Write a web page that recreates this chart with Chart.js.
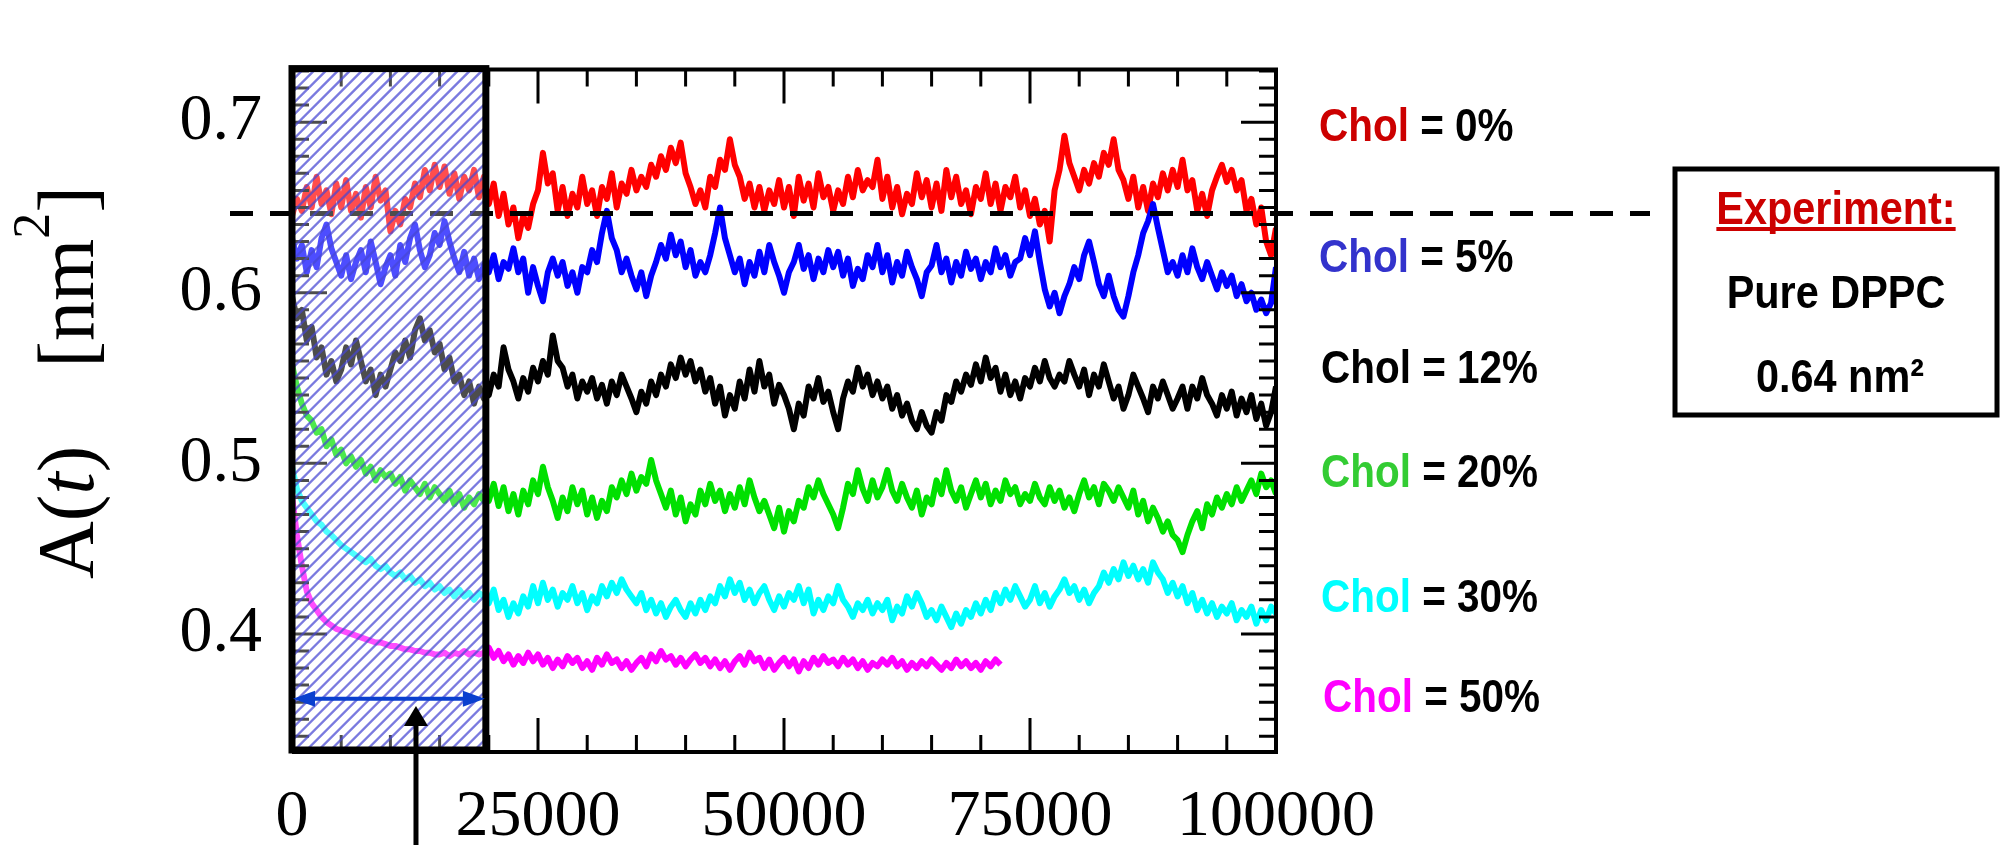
<!DOCTYPE html>
<html>
<head>
<meta charset="utf-8">
<script src="https://cdn.jsdelivr.net/npm/chart.js@4.4.1/dist/chart.umd.min.js"></script>
<style>
  html, body { margin: 0; padding: 0; background: #fff; }
  #wrap { width: 2003px; height: 845px; }
</style>
</head>
<body>
<div id="wrap"><canvas id="c" width="2003" height="845"></canvas></div>
<script>
// ---------------- data ----------------
const T_STEP = 500;            // sampling interval of the traces (x units)
const xTickValues = [0, 25000, 50000, 75000, 100000];
const yTickValues = [0.4, 0.5, 0.6, 0.7];
const Y_MIN = 0.3308, Y_MAX = 0.7308;
const X_MIN = 0, X_MAX = 100000;
const HATCH_END = 19700;       // equilibration window shown hatched
const EXP_LINE = 0.6465;       // dashed reference line
const BLUE_ARROW_Y = 0.362;
const BLACK_ARROW_X = 12600, BLACK_ARROW_TIP = 0.3578;

const seriesNames = ['Chol = 0%', 'Chol = 5%', 'Chol = 12%', 'Chol = 20%', 'Chol = 30%', 'Chol = 50%'];
const lineColors  = ['#ff0000', '#0000ff', '#000000', '#00e000', '#00ffff', '#ff00ff'];
const labelColors = ['#cc0000', '#3333cc', '#000000', '#33cc33', '#00ffff', '#ff00ff'];

const chol0 = [
0.645,0.655,0.648,0.662,0.650,0.668,0.652,0.660,0.646,0.664,
0.650,0.666,0.648,0.658,0.644,0.662,0.650,0.668,0.654,0.660,
0.636,0.648,0.640,0.655,0.650,0.664,0.656,0.672,0.660,0.675,
0.662,0.674,0.658,0.670,0.655,0.668,0.660,0.672,0.656,0.668,
0.652,0.664,0.645,0.658,0.640,0.650,0.632,0.645,0.638,0.652,
0.660,0.682,0.664,0.670,0.648,0.662,0.645,0.658,0.650,0.668,
0.652,0.660,0.645,0.662,0.655,0.670,0.650,0.664,0.658,0.672,
0.660,0.668,0.662,0.675,0.668,0.680,0.672,0.685,0.676,0.688,
0.670,0.662,0.652,0.660,0.650,0.668,0.662,0.678,0.672,0.690,
0.675,0.668,0.655,0.664,0.650,0.662,0.648,0.660,0.652,0.666,
0.650,0.662,0.645,0.668,0.654,0.664,0.650,0.670,0.656,0.662,
0.648,0.660,0.652,0.668,0.656,0.672,0.660,0.666,0.662,0.678,
0.655,0.668,0.650,0.662,0.646,0.658,0.652,0.670,0.656,0.666,
0.650,0.664,0.648,0.672,0.656,0.668,0.652,0.660,0.646,0.662,
0.655,0.670,0.652,0.664,0.648,0.662,0.656,0.668,0.650,0.660,
0.645,0.655,0.640,0.648,0.630,0.660,0.672,0.692,0.676,0.668,
0.660,0.672,0.664,0.676,0.668,0.682,0.675,0.690,0.672,0.666,
0.655,0.668,0.650,0.662,0.648,0.664,0.656,0.670,0.660,0.672,
0.662,0.678,0.660,0.666,0.648,0.658,0.645,0.660,0.668,0.675,
0.665,0.672,0.660,0.666,0.648,0.655,0.640,0.650,0.630,0.622,
0.638];

const chol5 = [
0.632,0.620,0.628,0.612,0.625,0.615,0.632,0.640,0.626,0.618,
0.610,0.622,0.608,0.618,0.625,0.612,0.630,0.618,0.605,0.615,
0.622,0.610,0.628,0.618,0.632,0.640,0.625,0.615,0.622,0.635,
0.628,0.642,0.630,0.620,0.612,0.624,0.610,0.620,0.608,0.616,
0.612,0.622,0.608,0.618,0.614,0.626,0.612,0.620,0.600,0.615,
0.604,0.595,0.612,0.620,0.610,0.618,0.604,0.612,0.600,0.615,
0.612,0.625,0.618,0.635,0.648,0.632,0.625,0.612,0.620,0.610,
0.602,0.612,0.598,0.610,0.618,0.628,0.620,0.634,0.622,0.630,
0.615,0.625,0.610,0.618,0.612,0.622,0.635,0.650,0.632,0.622,
0.612,0.620,0.605,0.618,0.610,0.624,0.612,0.628,0.618,0.610,
0.600,0.612,0.618,0.628,0.614,0.622,0.608,0.620,0.612,0.625,
0.615,0.624,0.610,0.620,0.604,0.614,0.608,0.622,0.615,0.628,
0.612,0.622,0.606,0.618,0.610,0.624,0.615,0.608,0.598,0.612,
0.616,0.628,0.612,0.620,0.606,0.618,0.610,0.624,0.614,0.620,
0.608,0.618,0.612,0.626,0.615,0.622,0.610,0.618,0.620,0.632,
0.622,0.636,0.618,0.602,0.592,0.600,0.588,0.598,0.605,0.615,
0.608,0.622,0.630,0.618,0.605,0.598,0.610,0.598,0.590,0.586,
0.598,0.612,0.622,0.635,0.642,0.652,0.638,0.625,0.612,0.618,
0.610,0.622,0.612,0.626,0.615,0.608,0.618,0.610,0.602,0.612,
0.604,0.610,0.598,0.605,0.595,0.600,0.590,0.596,0.588,0.594,
0.615];

const chol12 = [
0.598,0.585,0.590,0.572,0.580,0.562,0.568,0.552,0.560,0.548,
0.555,0.568,0.558,0.572,0.560,0.548,0.555,0.540,0.552,0.545,
0.555,0.565,0.560,0.572,0.562,0.578,0.585,0.572,0.578,0.565,
0.570,0.555,0.562,0.548,0.552,0.540,0.548,0.535,0.545,0.538,
0.540,0.552,0.545,0.568,0.555,0.548,0.538,0.550,0.542,0.556,
0.548,0.560,0.552,0.575,0.560,0.556,0.545,0.552,0.538,0.548,
0.542,0.550,0.538,0.546,0.535,0.548,0.540,0.552,0.545,0.538,
0.530,0.542,0.535,0.548,0.540,0.552,0.545,0.558,0.550,0.562,
0.552,0.560,0.548,0.555,0.542,0.550,0.535,0.545,0.528,0.540,
0.532,0.548,0.538,0.555,0.542,0.560,0.545,0.552,0.535,0.546,
0.540,0.532,0.520,0.535,0.528,0.545,0.538,0.550,0.536,0.542,
0.530,0.520,0.538,0.548,0.542,0.556,0.545,0.552,0.540,0.548,
0.538,0.545,0.532,0.540,0.528,0.535,0.525,0.520,0.530,0.522,
0.518,0.530,0.525,0.540,0.536,0.548,0.542,0.552,0.546,0.558,
0.548,0.562,0.550,0.556,0.542,0.552,0.540,0.548,0.538,0.550,
0.545,0.556,0.548,0.560,0.550,0.545,0.552,0.548,0.560,0.552,
0.545,0.555,0.540,0.552,0.545,0.558,0.548,0.538,0.545,0.532,
0.540,0.552,0.545,0.538,0.530,0.545,0.538,0.548,0.540,0.532,
0.538,0.545,0.532,0.545,0.538,0.550,0.540,0.535,0.528,0.540,
0.532,0.542,0.528,0.538,0.530,0.540,0.526,0.535,0.522,0.530,
0.545];

const chol20 = [
0.558,0.545,0.535,0.528,0.525,0.518,0.520,0.510,0.514,0.505,
0.508,0.500,0.504,0.498,0.502,0.494,0.498,0.490,0.496,0.492,
0.494,0.488,0.492,0.484,0.490,0.486,0.482,0.488,0.480,0.486,
0.482,0.478,0.484,0.476,0.482,0.474,0.480,0.476,0.482,0.478,
0.478,0.488,0.475,0.486,0.472,0.482,0.470,0.484,0.476,0.490,
0.482,0.498,0.486,0.478,0.468,0.480,0.472,0.486,0.476,0.484,
0.470,0.480,0.468,0.478,0.472,0.486,0.480,0.490,0.482,0.494,
0.484,0.492,0.488,0.502,0.490,0.482,0.474,0.484,0.470,0.480,
0.466,0.476,0.470,0.484,0.476,0.488,0.478,0.484,0.472,0.482,
0.474,0.486,0.476,0.490,0.480,0.472,0.478,0.470,0.462,0.474,
0.460,0.472,0.466,0.478,0.474,0.486,0.480,0.490,0.482,0.476,
0.470,0.462,0.474,0.488,0.482,0.496,0.485,0.478,0.490,0.480,
0.486,0.496,0.484,0.478,0.488,0.480,0.474,0.484,0.470,0.480,
0.476,0.490,0.482,0.496,0.484,0.478,0.486,0.474,0.482,0.490,
0.480,0.488,0.476,0.484,0.478,0.490,0.482,0.486,0.476,0.482,
0.478,0.488,0.480,0.476,0.486,0.478,0.484,0.474,0.480,0.472,
0.482,0.490,0.480,0.486,0.476,0.488,0.484,0.478,0.486,0.480,
0.474,0.484,0.470,0.478,0.466,0.474,0.468,0.460,0.466,0.458,
0.455,0.448,0.458,0.466,0.472,0.462,0.476,0.470,0.480,0.474,
0.482,0.476,0.486,0.478,0.484,0.490,0.482,0.494,0.486,0.490,
0.482];

const chol30 = [
0.498,0.485,0.478,0.474,0.470,0.466,0.464,0.460,0.458,0.455,
0.452,0.450,0.448,0.446,0.444,0.442,0.444,0.440,0.438,0.440,
0.436,0.434,0.436,0.432,0.434,0.430,0.432,0.428,0.430,0.426,
0.428,0.424,0.426,0.422,0.426,0.422,0.424,0.420,0.424,0.422,
0.418,0.426,0.414,0.420,0.410,0.418,0.412,0.422,0.416,0.428,
0.418,0.430,0.420,0.426,0.416,0.424,0.420,0.428,0.418,0.424,
0.414,0.422,0.418,0.428,0.422,0.430,0.424,0.432,0.426,0.422,
0.418,0.424,0.414,0.420,0.412,0.418,0.410,0.416,0.420,0.414,
0.410,0.418,0.412,0.420,0.414,0.422,0.418,0.428,0.422,0.432,
0.424,0.430,0.420,0.426,0.418,0.424,0.428,0.420,0.414,0.422,
0.416,0.424,0.420,0.428,0.418,0.426,0.412,0.420,0.414,0.422,
0.418,0.428,0.420,0.416,0.410,0.418,0.414,0.420,0.412,0.418,
0.414,0.420,0.408,0.416,0.412,0.422,0.416,0.424,0.418,0.410,
0.414,0.408,0.416,0.410,0.404,0.412,0.406,0.414,0.410,0.418,
0.412,0.420,0.414,0.424,0.418,0.426,0.420,0.428,0.422,0.416,
0.420,0.428,0.418,0.424,0.416,0.422,0.426,0.432,0.424,0.428,
0.420,0.426,0.418,0.424,0.428,0.436,0.430,0.438,0.432,0.442,
0.434,0.440,0.432,0.438,0.430,0.442,0.436,0.432,0.424,0.430,
0.422,0.428,0.418,0.424,0.414,0.420,0.412,0.418,0.410,0.416,
0.412,0.418,0.408,0.414,0.410,0.416,0.406,0.414,0.408,0.416,
0.412];

const chol50 = [
0.481,0.458,0.440,0.425,0.418,0.414,0.410,0.407,0.405,0.403,
0.402,0.401,0.400,0.399,0.398,0.397,0.396,0.395,0.395,0.394,
0.393,0.393,0.392,0.391,0.391,0.390,0.390,0.389,0.389,0.388,
0.388,0.389,0.387,0.389,0.388,0.390,0.388,0.389,0.388,0.389,
0.392,0.386,0.390,0.384,0.388,0.382,0.387,0.383,0.389,0.384,
0.388,0.382,0.386,0.380,0.385,0.381,0.387,0.383,0.386,0.380,
0.384,0.379,0.386,0.382,0.388,0.383,0.385,0.380,0.384,0.379,
0.383,0.386,0.381,0.388,0.384,0.390,0.385,0.387,0.382,0.386,
0.381,0.385,0.388,0.383,0.386,0.381,0.385,0.380,0.384,0.379,
0.384,0.387,0.382,0.389,0.384,0.386,0.380,0.385,0.379,0.383,
0.386,0.381,0.385,0.378,0.384,0.380,0.386,0.382,0.387,0.383,
0.385,0.381,0.386,0.382,0.385,0.380,0.384,0.379,0.383,0.381,
0.385,0.382,0.386,0.381,0.384,0.379,0.383,0.380,0.384,0.381,
0.385,0.382,0.379,0.383,0.380,0.385,0.381,0.384,0.380,0.383,
0.379,0.384,0.381,0.385,0.382];

const allSeries = [chol0, chol5, chol12, chol20, chol30, chol50];

// ---------------- chart ----------------
const SERIF = '"Liberation Serif", "Times New Roman", serif';
const SANS = '"Liberation Sans", Arial, sans-serif';

function drawParts(ctx, x, baseline, parts, font, sx) {
  ctx.save();
  ctx.translate(x, baseline);
  ctx.scale(sx, 1);
  ctx.font = font;
  ctx.textBaseline = 'alphabetic';
  ctx.textAlign = 'left';
  let cx = 0;
  for (const [txt, col] of parts) {
    ctx.fillStyle = col;
    ctx.fillText(txt, cx, 0);
    cx += ctx.measureText(txt).width;
  }
  ctx.restore();
  return cx * sx;
}

function arrowHead(ctx, tipX, tipY, dirX, dirY, len, half) {
  const px = -dirY, py = dirX;
  ctx.beginPath();
  ctx.moveTo(tipX, tipY);
  ctx.lineTo(tipX - dirX * len + px * half, tipY - dirY * len + py * half);
  ctx.lineTo(tipX - dirX * len - px * half, tipY - dirY * len - py * half);
  ctx.closePath();
  ctx.fill();
}

const decor = {
  id: 'decor',
  afterDatasetsDraw(chart) {
    const { ctx, chartArea: a, scales: { x, y } } = chart;
    ctx.save();
    ctx.strokeStyle = '#000';
    ctx.lineCap = 'butt';
    // frame (top, right, bottom)
    ctx.lineWidth = 4;
    ctx.beginPath();
    ctx.moveTo(a.left, a.top); ctx.lineTo(a.right, a.top);
    ctx.lineTo(a.right, a.bottom); ctx.lineTo(a.left, a.bottom);
    ctx.stroke();
    // inward ticks
    ctx.lineWidth = 3;
    ctx.beginPath();
    for (let v = X_MIN; v <= X_MAX; v += 5000) {
      const px = x.getPixelForValue(v);
      const len = v % 25000 === 0 ? 34 : 17;
      ctx.moveTo(px, a.bottom); ctx.lineTo(px, a.bottom - len);
      ctx.moveTo(px, a.top); ctx.lineTo(px, a.top + len);
    }
    for (let i = 34; i <= 73; i++) {
      const py = y.getPixelForValue(i / 100);
      const len = i % 10 === 0 ? 35 : 17;
      ctx.moveTo(a.right, py); ctx.lineTo(a.right - len, py);
      ctx.moveTo(a.left, py); ctx.lineTo(a.left + len, py);
    }
    ctx.stroke();
    // dashed reference line
    const dy = y.getPixelForValue(EXP_LINE);
    ctx.lineWidth = 5;
    ctx.setLineDash([23, 17]);
    ctx.beginPath();
    ctx.moveTo(230, dy); ctx.lineTo(1650, dy);
    ctx.stroke();
    ctx.restore();
  },
  afterDraw(chart) {
    const { ctx, chartArea: a, scales: { x, y } } = chart;
    const x0 = x.getPixelForValue(0), x1 = x.getPixelForValue(HATCH_END);
    const yt = a.top - 1, yb = a.bottom - 2;
    // hatched overlay
    ctx.save();
    ctx.beginPath();
    ctx.rect(x0, yt, x1 - x0, yb - yt);
    ctx.clip();
    ctx.fillStyle = 'rgba(255,255,255,0.3)';
    ctx.fillRect(x0, yt, x1 - x0, yb - yt);
    ctx.strokeStyle = 'rgba(70,70,210,0.72)';
    ctx.lineWidth = 2.4;
    ctx.beginPath();
    const H = yb - yt;
    for (let k = -H; k <= (x1 - x0) + 12; k += 12) {
      ctx.moveTo(x0 + k, yb);
      ctx.lineTo(x0 + k + H, yt);
    }
    ctx.stroke();
    ctx.restore();
    // box border
    ctx.save();
    ctx.strokeStyle = '#000';
    ctx.lineWidth = 7;
    ctx.strokeRect(x0, yt, x1 - x0, yb - yt);
    // blue double arrow
    const by = y.getPixelForValue(BLUE_ARROW_Y);
    ctx.strokeStyle = '#0a3fcf'; ctx.fillStyle = '#0a3fcf';
    ctx.lineWidth = 4;
    ctx.beginPath();
    ctx.moveTo(x0 + 18, by); ctx.lineTo(x1 - 18, by);
    ctx.stroke();
    arrowHead(ctx, x0 + 1, by, -1, 0, 22, 8);
    arrowHead(ctx, x1 - 1, by, 1, 0, 22, 8);
    // black arrow
    const ax = x.getPixelForValue(BLACK_ARROW_X);
    const ay = y.getPixelForValue(BLACK_ARROW_TIP);
    ctx.strokeStyle = '#000'; ctx.fillStyle = '#000';
    ctx.lineWidth = 5;
    ctx.beginPath();
    ctx.moveTo(ax, 845); ctx.lineTo(ax, ay + 16);
    ctx.stroke();
    arrowHead(ctx, ax, ay, 0, -1, 20, 12);
    ctx.restore();

    // y axis title: A(t)  [nm^2]
    ctx.save();
    ctx.translate(93, 579);
    ctx.rotate(-Math.PI / 2);
    ctx.fillStyle = '#000';
    ctx.textBaseline = 'alphabetic';
    let cx = 0;
    const put = (t, f, dy) => { ctx.font = f; ctx.fillText(t, cx, dy || 0); cx += ctx.measureText(t).width; };
    put('A(', '80px ' + SERIF);
    put('t', 'italic 80px ' + SERIF);
    put(')', '80px ' + SERIF);
    cx += 78;
    put('[nm', '80px ' + SERIF);
    put('2', '52px ' + SERIF, -44);
    put(']', '80px ' + SERIF);
    ctx.restore();

    // series labels
    const LF = 'bold 46px ' + SANS;
    const baselines = [141, 272, 383, 487, 612, 712];
    const lx = [1319, 1319, 1321, 1321, 1321, 1323];
    seriesNames.forEach((name, i) => {
      const rest = name.slice(4);
      drawParts(ctx, lx[i], baselines[i], [['Chol', labelColors[i]], [rest, '#000']], LF, 0.88);
    });

    // experiment box
    ctx.save();
    ctx.strokeStyle = '#000';
    ctx.lineWidth = 5;
    ctx.strokeRect(1675, 169, 322, 246);
    ctx.restore();
    const centerText = (txt, cxp, base, col, sx) => {
      ctx.save();
      ctx.font = LF;
      const w = ctx.measureText(txt).width * sx;
      ctx.restore();
      drawParts(ctx, cxp - w / 2, base, [[txt, col]], LF, sx);
      return w;
    };
    const ew = centerText('Experiment:', 1836, 224, '#cc0000', 0.9);
    ctx.save();
    ctx.fillStyle = '#cc0000';
    ctx.fillRect(1836 - ew / 2, 227, ew, 4);
    ctx.restore();
    centerText('Pure DPPC', 1836, 308, '#000', 0.9);
    centerText('0.64 nm\u00B2', 1840, 392, '#000', 0.9);
  }
};

const datasets = allSeries.map((vals, i) => ({
  label: seriesNames[i],
  data: vals.map((v, k) => ({ x: k * T_STEP, y: v })),
  borderColor: lineColors[i],
  backgroundColor: lineColors[i],
  borderWidth: 6,
  borderJoinStyle: 'round',
  pointRadius: 0,
  tension: 0,
  fill: false,
  order: 6 - i
}));

new Chart(document.getElementById('c'), {
  type: 'line',
  data: { datasets },
  options: {
    responsive: false,
    animation: false,
    devicePixelRatio: 1,
    layout: { padding: { left: 0, right: 727, top: 12, bottom: 0 } },
    plugins: { legend: { display: false }, tooltip: { enabled: false } },
    scales: {
      x: {
        type: 'linear', position: 'bottom', min: X_MIN, max: X_MAX,
        grid: { display: false, drawTicks: false },
        border: { display: false },
        ticks: {
          color: '#000', padding: 26, maxRotation: 0, autoSkip: false,
          font: { family: SERIF, size: 66 },
          callback: v => String(v)
        },
        afterBuildTicks: s => { s.ticks = xTickValues.map(v => ({ value: v })); },
        afterFit: s => { s.height = 93; }
      },
      y: {
        type: 'linear', position: 'left', min: Y_MIN, max: Y_MAX,
        grid: { display: false, drawTicks: false },
        border: { display: false },
        ticks: {
          color: '#000', padding: 30,
          font: { family: SERIF, size: 66 },
          callback: v => v.toFixed(1)
        },
        afterBuildTicks: s => { s.ticks = yTickValues.map(v => ({ value: v })); },
        afterFit: s => { s.width = 292; }
      }
    }
  },
  plugins: [decor]
});
</script>
</body>
</html>
